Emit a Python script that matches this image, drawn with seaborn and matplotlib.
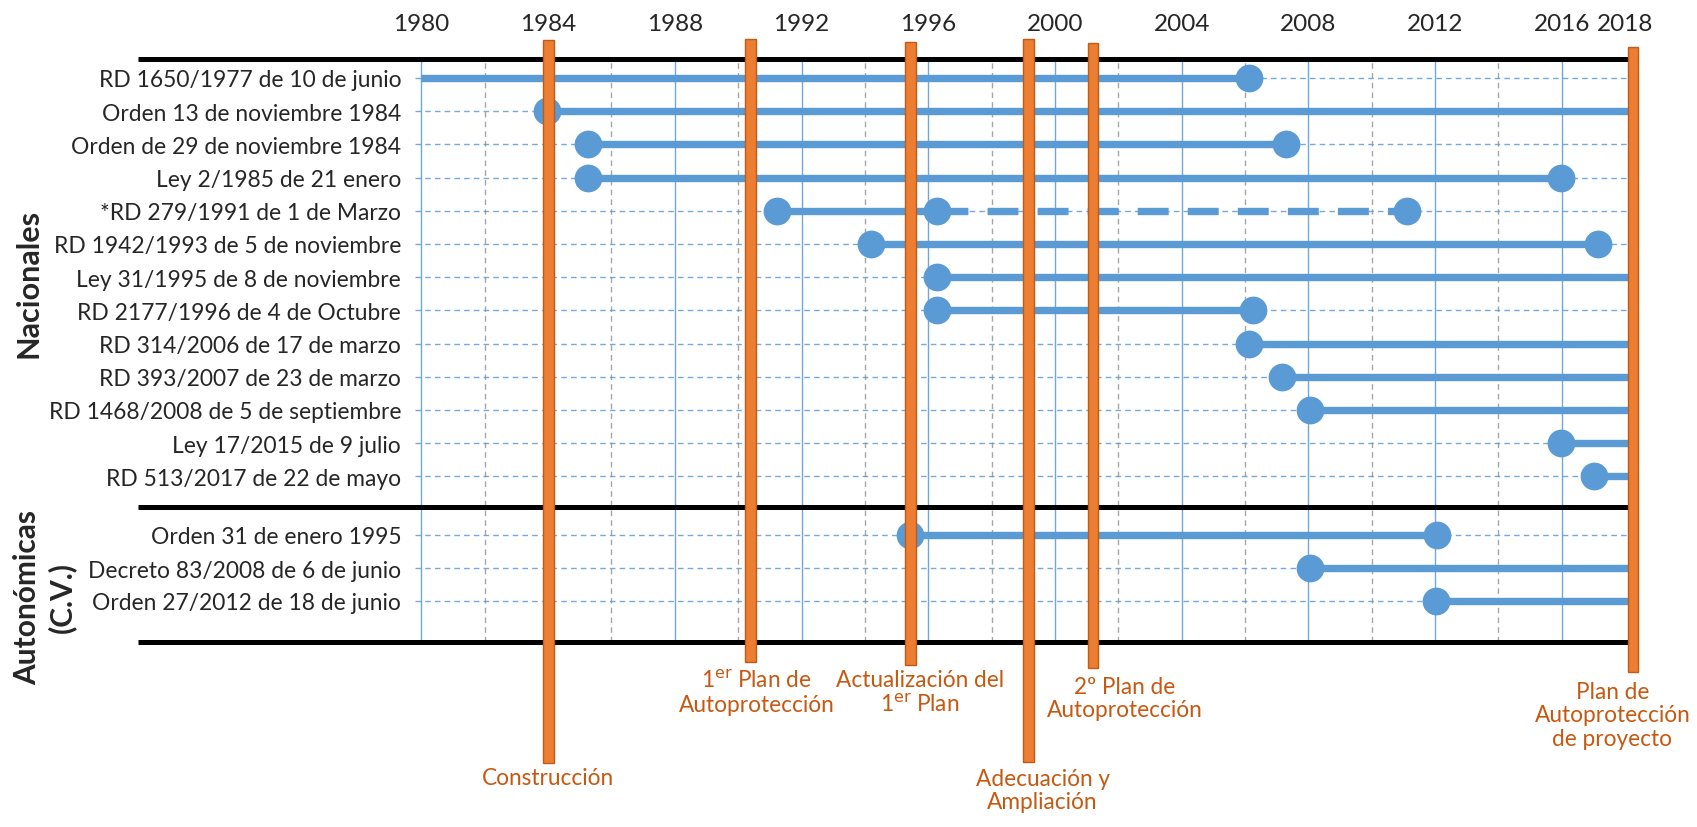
import numpy as np
import pandas as pd
import matplotlib.pyplot as plt
import seaborn as sns

# Normativa (one row each)
normas = [
    "RD 1650/1977 de 10 de junio",
    "Orden 13 de noviembre 1984",
    "Orden de 29 de noviembre 1984",
    "Ley 2/1985 de 21 enero",
    "*RD 279/1991 de 1 de Marzo",
    "RD 1942/1993 de 5 de noviembre",
    "Ley 31/1995 de 8 de noviembre",
    "RD 2177/1996 de 4 de Octubre",
    "RD 314/2006 de 17 de marzo",
    "RD 393/2007 de 23 de marzo",
    "RD 1468/2008 de 5 de septiembre",
    "Ley 17/2015 de 9 julio",
    "RD 513/2017 de 22 de mayo",
    "Orden 31 de enero 1995",
    "Decreto 83/2008 de 6 de junio",
    "Orden 27/2012 de 18 de junio",
]
# row positions: 13 nacionales, then a gap, then 3 autonomicas
filas = list(range(13)) + [13.76, 14.77, 15.75]

# start / end of validity (nan = still in force in 2018)
inicio = [1977.45, 1983.97, 1985.25, 1985.25, 1991.23, 1994.2, 1996.29, 1996.29,
          2006.13, 2007.18, 2008.04, 2015.97, 2017.02, 1995.43, 2008.04, 2012.04]
fin = [2006.13, np.nan, 2007.29, 2015.97, 1996.29, 2017.16, np.nan, 2006.26,
       np.nan, np.nan, np.nan, np.nan, np.nan, 2012.07, np.nan, np.nan]

# transitional period of RD 279/1991 (dashed)
trans_fila = [4]
trans_inicio = [1996.29]
trans_fin = [2011.13]

# milestones of the building (orange bars)
hitos = ["Construcción", "1$^{\\rm er}$ Plan de\nAutoprotección",
         "Actualización del\n1$^{\\rm er}$ Plan", "Adecuación y\nAmpliación",
         "2º Plan de\nAutoprotección", "Plan de\nAutoprotección\nde proyecto"]
hito_anio = [1984.0, 1990.38, 1995.43, 1999.16, 2001.2, 2018.25]
hito_top = [-1.14, -1.16, -1.08, -1.16, -1.05, -0.94]
hito_bottom = [20.63, 17.6, 17.67, 20.59, 17.77, 17.9]

anios_label = [1980, 1984, 1988, 1992, 1996, 2000, 2004, 2008, 2012, 2016, 2018]

x_min, x_max = 1979.8, 2018.1
azul = "#5b9bd5"
naranja = "#ed7d31"
naranja_txt = "#c65911"

sns.set_theme(style="white")
plt.rcParams['font.family'] = ['Lato', 'DejaVu Sans']

fig = plt.figure(figsize=(16.97, 8.28), dpi=100)
ax = fig.add_axes([0.2446, 0.2238, 0.7149, 0.7037])
ax.set_xlim(x_min, x_max)
ax.set_ylim(16.98, -0.57)
for s in ax.spines.values():
    s.set_visible(False)

# grid: solid every 4 years, dashed in between
for a in range(1980, 2017, 4):
    ax.axvline(a, color="#6fa8dc", lw=1, zorder=1)
for a in range(1982, 2015, 4):
    ax.axvline(a, color="#a6a6a6", lw=1, ls=(0, (4, 3)), zorder=1)
# dashed row guides
for f in filas:
    ax.axhline(f, color=azul, lw=1, ls=(0, (4, 3)), alpha=0.85, zorder=1)

# validity bars
ini = np.maximum(np.array(inicio), 1980)
fin_arr = np.array(fin)
fin_plot = np.where(np.isnan(fin_arr), x_max, fin_arr)
ax.hlines(filas, ini, fin_plot, color=azul, lw=5.3, zorder=3)
ax.hlines([filas[i] for i in trans_fila], trans_inicio, trans_fin, color=azul,
          lw=5.3, ls=(0, (4.2, 2.6)), zorder=3)

# dots at start / end dates
puntos = pd.DataFrame({
    "anio": [v for v in inicio if v >= 1980] + [v for v in fin if not np.isnan(v)] + trans_fin,
    "fila": [f for v, f in zip(inicio, filas) if v >= 1980]
            + [f for v, f in zip(fin, filas) if not np.isnan(v)]
            + [filas[i] for i in trans_fila],
})
sns.scatterplot(data=puntos, x="anio", y="fila", ax=ax, s=400, color=azul,
                edgecolor=azul, linewidth=0, zorder=4, clip_on=False)

# black separators
ax.hlines([-0.57, 12.91, 16.98], -0.228, 1, transform=ax.get_yaxis_transform(),
          color="black", lw=3.6, zorder=5, clip_on=False)

# milestones
ax.bar(hito_anio, np.array(hito_bottom) - np.array(hito_top), bottom=hito_top,
       width=0.34, color=naranja, edgecolor="#c05a17", lw=1, zorder=6, clip_on=False)
hito_dx = [0, 0.2, 0.3, 0.45, 1.0, -0.65]
hito_txt_y = [20.75, 17.8, 17.8, 20.78, 18.0, 18.15]
for txt, a, dx, y in zip(hitos, hito_anio, hito_dx, hito_txt_y):
    ax.text(a + dx, y, txt, color=naranja_txt, fontsize=16.3, ha="center", va="top",
            multialignment="center", clip_on=False, linespacing=1.15)

# axes labels
ax.xaxis.tick_top()
ax.set_xticks(anios_label)
ax.set_xticklabels([str(a) for a in anios_label], fontsize=17.5)
ax.tick_params(axis="x", length=0, pad=18)
ax.set_yticks(filas)
ax.set_yticklabels(normas, fontsize=16.4)
ax.tick_params(axis="y", length=0, pad=10)
ax.set_xlabel("")
ax.set_ylabel("")

fig.text(0.0165, 0.6575, "Nacionales", rotation=90, fontsize=22, fontweight="bold",
         ha="center", va="center")
fig.text(0.0262, 0.278, "Autonómicas\n(C.V.)", rotation=90, fontsize=21.5,
         fontweight="bold", ha="center", va="center", multialignment="center",
         linespacing=1.25)

fig.savefig("out.png", dpi=100)
